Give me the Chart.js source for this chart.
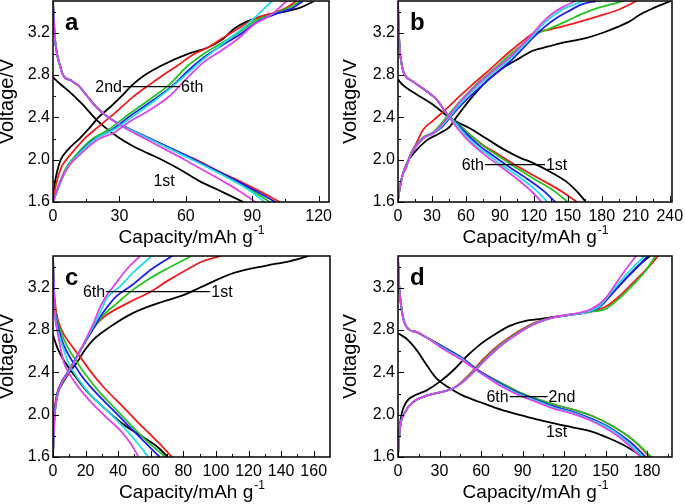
<!DOCTYPE html>
<html>
<head>
<meta charset="utf-8">
<script src="https://cdn.jsdelivr.net/npm/chart.js@4.4.0/dist/chart.umd.min.js"></script>
<style>
  html, body { margin: 0; padding: 0; background: #fff; }
  #wrap { position: relative; width: 685px; height: 504px; overflow: hidden; background: #fff; }
  canvas { position: absolute; }
</style>
</head>
<body>
<div id="wrap">
  <canvas id="panelA" width="342" height="252" style="left:0;top:0"></canvas>
  <canvas id="panelB" width="342" height="252" style="left:343px;top:0"></canvas>
  <canvas id="panelC" width="342" height="252" style="left:0;top:252px"></canvas>
  <canvas id="panelD" width="342" height="252" style="left:343px;top:252px"></canvas>
</div>
<script>
// cycle colours: 1st .. 6th
const cycleColors = ['#000000', '#ee1c1c', '#22c322', '#1c1cee', '#22dde6', '#dd44e6'];

// axis ticks
const yTicks = [1.6, 2.0, 2.4, 2.8, 3.2];
const yMinor = [1.8, 2.2, 2.6, 3.0, 3.4];
const xTicksA = [0, 30, 60, 90, 120];
const xMinorA = [15, 45, 75, 105];
const xTicksB = [0, 30, 60, 90, 120, 150, 180, 210, 240];
const xMinorB = [15, 45, 75, 105, 135, 165, 195, 225];
const xTicksC = [0, 20, 40, 60, 80, 100, 120, 140, 160];
const xMinorC = [10, 30, 50, 70, 90, 110, 130, 150];
const xTicksD = [0, 30, 60, 90, 120, 150, 180];
const xMinorD = [15, 45, 75, 105, 135, 165, 195];

// ---- panel a : [capacity, voltage] per cycle ----
const chargeA = [
  [[0,1.62],[0.5,1.72],[1,1.8],[2,1.9],[3.5,2.0],[7,2.1],[12,2.2],[16.5,2.3],[20.5,2.4],[26,2.5],[31,2.6],[35.5,2.7],[41.5,2.8],[50,2.9],[61,3.0],[70,3.06],[76,3.13],[82,3.24],[87,3.3],[95,3.36],[105,3.4],[112,3.44],[118,3.5]],
  [[0,1.62],[1.5,1.78],[3.8,1.93],[6,2.0],[10,2.1],[14.3,2.2],[21,2.32],[27.9,2.44],[35.4,2.58],[43,2.7],[50.5,2.81],[57,2.9],[63,2.99],[70,3.06],[76,3.14],[83,3.23],[91,3.33],[100,3.39],[105,3.43],[110,3.5]],
  [[0,1.6],[2.3,1.74],[5.3,1.9],[9.8,2.03],[17.3,2.19],[24.8,2.28],[32.4,2.4],[43,2.56],[52,2.7],[61,2.89],[68,3.0],[76,3.1],[84,3.2],[91,3.31],[100,3.38],[106,3.43],[112,3.5]],
  [[0,1.6],[2.5,1.74],[5.8,1.9],[10.5,2.03],[18.5,2.19],[26.5,2.28],[34,2.4],[45,2.56],[54,2.7],[62,2.86],[69,2.98],[77,3.09],[85,3.19],[92,3.3],[101,3.38],[108,3.43],[113,3.5]],
  [[0,1.6],[2.8,1.76],[6.2,1.92],[11.5,2.05],[19.5,2.2],[28,2.29],[35.5,2.4],[46,2.56],[55,2.71],[62,2.84],[68,2.95],[74,3.05],[80,3.15],[86,3.25],[91,3.34],[95,3.42],[99,3.5]],
  [[0,1.6],[3,1.78],[6.8,1.93],[12.8,2.06],[20.3,2.19],[27.9,2.26],[35.4,2.37],[43,2.46],[52,2.59],[61,2.78],[68,2.92],[76,3.03],[84,3.15],[91,3.28],[98.6,3.37],[102,3.43],[105.5,3.5]]
];
const dischargeA = [
  [[0,2.78],[3,2.72],[7,2.65],[13,2.53],[20,2.37],[29,2.22],[36,2.13],[43,2.06],[50,1.99],[58,1.9],[66,1.8],[74,1.72],[80,1.66],[86,1.6]],
  [[0,3.5],[0.3,3.35],[0.7,3.2],[1.2,3.08],[2,2.98],[3,2.9],[4.5,2.8],[8,2.75],[11.5,2.7],[15.5,2.6],[19.5,2.5],[25,2.4],[33.7,2.3],[43.8,2.2],[54,2.1],[64.5,2.0],[74,1.9],[84,1.8],[93.5,1.7],[102.5,1.6]],
  [[0,3.5],[0.3,3.35],[0.7,3.2],[1.2,3.08],[2,2.98],[3,2.9],[4.5,2.8],[8,2.75],[11.5,2.7],[15.5,2.6],[19.5,2.5],[25,2.4],[33.5,2.3],[43.5,2.2],[53.5,2.1],[63.5,2.0],[73,1.9],[82,1.8],[90.5,1.7],[98,1.6]],
  [[0,3.5],[0.3,3.35],[0.7,3.2],[1.2,3.08],[2,2.98],[3,2.9],[4.5,2.8],[8,2.75],[11.5,2.7],[15.5,2.6],[19.5,2.5],[25,2.4],[33.7,2.3],[43.8,2.2],[53.9,2.1],[64,2.0],[73.5,1.9],[83,1.8],[92,1.7],[100.5,1.6]],
  [[0,3.5],[0.3,3.35],[0.7,3.2],[1.2,3.08],[2,2.98],[3,2.9],[4.5,2.8],[8,2.75],[11.5,2.7],[15.5,2.6],[19.5,2.5],[25,2.4],[33.3,2.3],[43.2,2.2],[53,2.1],[63,2.0],[72.5,1.9],[81.5,1.8],[89.5,1.7],[95.5,1.6]],
  [[0,3.5],[0.3,3.35],[0.7,3.2],[1.2,3.08],[2,2.98],[3,2.9],[4.5,2.8],[8,2.75],[11.5,2.7],[15.5,2.6],[19.5,2.5],[25,2.4],[32.5,2.3],[41.5,2.2],[50.5,2.1],[59.5,2.0],[68,1.9],[76.5,1.8],[84.5,1.7],[91.5,1.6]]
];

// ---- panel b ----
const chargeB = [
  [[0,1.62],[2,1.76],[4.4,1.87],[8,1.97],[13,2.05],[25,2.18],[36.8,2.25],[45.6,2.31],[51.5,2.4],[63,2.56],[78,2.74],[93,2.87],[107.5,2.96],[119,3.03],[133,3.07],[143,3.1],[166,3.15],[181,3.2],[193,3.25],[205,3.31],[213.5,3.37],[225,3.43],[241,3.5]],
  [[0,1.62],[2,1.75],[4,1.85],[7.4,1.93],[11,2.05],[16,2.15],[22,2.28],[31,2.37],[42.7,2.48],[54.5,2.6],[69,2.74],[84,2.88],[98.6,3.02],[110,3.12],[119,3.19],[134,3.23],[149,3.27],[178,3.36],[193,3.41],[211,3.5]],
  [[0,1.62],[2,1.76],[4.5,1.87],[8,1.97],[13,2.09],[22,2.21],[31,2.26],[42.7,2.4],[54.5,2.55],[69,2.71],[84,2.85],[98.6,2.99],[110,3.09],[119,3.17],[134,3.24],[149,3.31],[163,3.38],[178,3.44],[200,3.5]],
  [[0,1.62],[2,1.76],[4.5,1.87],[8,1.96],[13,2.08],[22,2.2],[31,2.25],[38,2.3],[46,2.4],[57,2.53],[72,2.68],[87,2.82],[100,2.94],[111,3.06],[120,3.16],[130,3.26],[140,3.34],[150,3.4],[163,3.47],[175,3.5]],
  [[0,1.62],[2,1.76],[4.5,1.87],[8,1.96],[13,2.08],[22,2.2],[31,2.25],[37,2.3],[45,2.4],[56,2.54],[71,2.7],[86,2.84],[99,2.95],[110,3.07],[119,3.17],[128,3.28],[137,3.36],[147,3.43],[164,3.5]],
  [[0,1.62],[2,1.76],[4.5,1.87],[8,1.96],[13,2.08],[22,2.2],[31,2.25],[36,2.3],[44,2.4],[55,2.55],[70,2.71],[85,2.85],[98,2.96],[109,3.08],[118,3.18],[126,3.28],[135,3.37],[145,3.44],[157,3.5]]
];
const dischargeB = [
  [[0,2.76],[3,2.72],[7.4,2.68],[19,2.6],[31,2.52],[42.7,2.42],[51.5,2.36],[63,2.3],[78,2.2],[93,2.1],[107.5,2.02],[119,1.97],[137,1.87],[149,1.79],[158,1.7],[166,1.6]],
  [[0,3.5],[0.3,3.35],[0.8,3.2],[1.5,3.05],[2.5,2.95],[4,2.86],[6,2.8],[13,2.74],[25,2.65],[34,2.57],[40,2.48],[44,2.42],[54,2.33],[63,2.24],[75,2.14],[87,2.06],[105,1.94],[125,1.82],[143,1.71],[158,1.6]],
  [[0,3.5],[0.3,3.35],[0.8,3.2],[1.5,3.05],[2.5,2.95],[4,2.86],[6,2.8],[13,2.74],[25,2.65],[34,2.57],[40,2.48],[44,2.42],[54,2.33],[63,2.24],[74,2.14],[85,2.06],[102,1.94],[120,1.82],[137,1.71],[150,1.6]],
  [[0,3.5],[0.3,3.35],[0.8,3.2],[1.5,3.05],[2.5,2.95],[4,2.86],[6,2.8],[13,2.74],[25,2.65],[34,2.57],[40,2.48],[44,2.42],[53,2.33],[61,2.24],[71,2.14],[81,2.06],[97,1.94],[114,1.82],[128,1.71],[139,1.6]],
  [[0,3.5],[0.3,3.35],[0.8,3.2],[1.5,3.05],[2.5,2.95],[4,2.86],[6,2.8],[13,2.74],[25,2.65],[34,2.57],[40,2.48],[44,2.42],[52,2.33],[59,2.24],[68,2.14],[78,2.06],[93,1.94],[109,1.82],[123,1.7],[132,1.6]],
  [[0,3.5],[0.3,3.35],[0.8,3.2],[1.5,3.05],[2.5,2.95],[4,2.86],[6,2.8],[13,2.74],[25,2.65],[34,2.57],[40,2.48],[44,2.42],[50,2.33],[57,2.24],[66,2.14],[75,2.06],[90,1.94],[105,1.82],[119,1.69],[127,1.6]]
];

// ---- panel c ----
const chargeC = [
  [[0,1.62],[0.6,1.9],[1.3,2.05],[3,2.2],[6,2.3],[10,2.4],[15,2.5],[19,2.6],[24.8,2.71],[35,2.83],[49,2.96],[63.7,3.05],[80,3.13],[90,3.2],[111,3.34],[131,3.41],[145,3.45],[157,3.5]],
  [[0,1.62],[0.5,1.9],[1,2.05],[2.5,2.2],[5,2.3],[9,2.4],[15,2.56],[21,2.72],[26,2.84],[31,2.92],[39,3.0],[49,3.08],[59.6,3.16],[69.8,3.26],[82,3.37],[92,3.45],[103,3.5]],
  [[0,1.62],[0.6,1.9],[1.2,2.05],[2.7,2.2],[5.2,2.3],[9,2.4],[15,2.56],[21,2.72],[26,2.84],[31,2.94],[39,3.05],[49,3.18],[59.6,3.29],[70,3.38],[85,3.5]],
  [[0,1.62],[0.6,1.9],[1.2,2.05],[2.7,2.2],[5.2,2.3],[9,2.4],[15,2.56],[21,2.72],[26,2.85],[31,2.97],[39,3.12],[49,3.23],[60,3.37],[73,3.5]],
  [[0,1.62],[0.7,1.9],[1.4,2.05],[3,2.2],[5.5,2.3],[9.3,2.4],[15.2,2.56],[21,2.73],[25.5,2.86],[29,2.97],[33,3.1],[41,3.21],[49,3.34],[60.6,3.5]],
  [[0,1.62],[0.7,1.9],[1.4,2.05],[3,2.2],[5.5,2.3],[9.5,2.4],[15.5,2.57],[21,2.74],[25,2.87],[28.9,3.02],[33,3.13],[37,3.21],[45,3.37],[53.4,3.5]]
];
const dischargeC = [
  [[0,2.75],[3,2.62],[7.2,2.5],[13.3,2.37],[21.5,2.21],[31.7,2.06],[44,1.9],[54,1.8],[64.5,1.69],[70.5,1.6]],
  [[0,3.5],[0.3,3.3],[1,3.1],[2,2.97],[5,2.81],[11,2.66],[17.4,2.53],[23.5,2.4],[31.7,2.25],[42,2.09],[52,1.93],[64.5,1.74],[73,1.6]],
  [[0,3.5],[0.3,3.3],[1,3.05],[2,2.93],[4.5,2.8],[8.2,2.66],[13.3,2.53],[19.5,2.39],[27.6,2.23],[38,2.06],[48,1.9],[58.4,1.74],[69,1.6]],
  [[0,3.5],[0.3,3.3],[1,3.03],[2,2.9],[4,2.78],[6.5,2.66],[11.3,2.52],[17.4,2.37],[25.6,2.22],[35.8,2.06],[46,1.9],[56.3,1.74],[65.5,1.6]],
  [[0,3.5],[0.3,3.3],[1,3.0],[2,2.87],[4,2.74],[6.5,2.62],[9.2,2.5],[15.4,2.34],[23.5,2.18],[33.8,2.03],[44,1.87],[52,1.73],[58.5,1.6]],
  [[0,3.5],[0.3,3.3],[1,2.98],[2,2.84],[3.5,2.72],[5,2.6],[7.2,2.47],[13.3,2.31],[21.5,2.15],[31.7,1.99],[42,1.84],[48,1.72],[52.5,1.6]]
];

// ---- panel d ----
const chargeD = [
  [[0,1.68],[1,1.85],[2.5,2.0],[6,2.12],[13.5,2.19],[20.7,2.23],[30,2.31],[40,2.42],[49.5,2.55],[59,2.66],[69,2.75],[80.7,2.84],[93,2.89],[100,2.9],[110,2.92],[122,2.94],[136,2.97],[146,3.03],[155,3.15],[165,3.29],[174,3.41],[182,3.5]],
  [[0,1.62],[1.4,1.87],[5,2.02],[11,2.12],[20.7,2.18],[30,2.21],[40,2.25],[46,2.31],[53,2.4],[62,2.53],[74,2.67],[86,2.78],[97,2.86],[109,2.91],[122,2.94],[138,2.97],[150,3.02],[160,3.12],[170,3.25],[180,3.38],[188,3.5]],
  [[0,1.62],[1.4,1.87],[5,2.02],[11,2.12],[20.7,2.18],[30,2.21],[40,2.25],[46.5,2.31],[53.5,2.4],[63,2.53],[75,2.67],[87,2.78],[98,2.86],[109.5,2.91],[122,2.94],[138,2.97],[150,3.0],[160,3.1],[170,3.23],[179,3.36],[186,3.5]],
  [[0,1.62],[1.4,1.87],[5,2.02],[11,2.12],[20.7,2.18],[30.3,2.21],[39.9,2.25],[47,2.31],[54.3,2.4],[64,2.53],[76,2.67],[88,2.78],[99,2.86],[110,2.91],[122,2.94],[136,2.97],[146,3.02],[155,3.15],[165,3.29],[174,3.41],[180.5,3.5]],
  [[0,1.62],[1.4,1.87],[5,2.02],[11,2.12],[20.7,2.18],[30.3,2.21],[39.9,2.25],[47,2.31],[54.3,2.4],[64,2.53],[76,2.67],[88,2.78],[99,2.86],[110,2.91],[122,2.94],[136,2.97],[146,3.03],[155,3.17],[164,3.31],[172,3.42],[178,3.5]],
  [[0,1.62],[1.4,1.87],[5,2.02],[11,2.12],[20.7,2.18],[30.3,2.21],[39.9,2.25],[47,2.31],[54.3,2.4],[64,2.53],[76,2.67],[88,2.78],[99,2.86],[110,2.91],[120,2.94],[130,2.96],[140,3.0],[150,3.1],[158,3.25],[165,3.38],[172,3.5]]
];
const dischargeD = [
  [[0,2.77],[6,2.72],[13.5,2.61],[20.7,2.47],[28,2.34],[37.5,2.25],[47,2.18],[59,2.12],[76,2.04],[93,1.98],[112,1.92],[126,1.88],[140,1.84],[152,1.78],[165,1.7],[177,1.6]],
  [[0,3.5],[0.5,3.3],[1.4,3.13],[3.8,2.91],[7.5,2.81],[13.5,2.78],[20.7,2.73],[32.7,2.64],[44.7,2.55],[59,2.41],[73,2.31],[88,2.21],[98,2.16],[112,2.1],[126,2.05],[140,1.99],[154,1.9],[170,1.76],[182,1.6]],
  [[0,3.5],[0.5,3.3],[1.4,3.13],[3.8,2.91],[7.5,2.81],[13.5,2.78],[20.7,2.73],[32.7,2.64],[44.7,2.55],[59,2.41],[73,2.31],[88,2.21],[98,2.16],[112,2.1],[126,2.05],[140,1.99],[154,1.9],[170,1.76],[183,1.6]],
  [[0,3.5],[0.5,3.3],[1.4,3.13],[3.8,2.91],[7.5,2.81],[13.5,2.78],[20.7,2.73],[32.7,2.64],[44.7,2.55],[59,2.41],[73,2.3],[88,2.2],[98,2.15],[112,2.08],[126,2.03],[140,1.96],[154,1.87],[168,1.74],[179,1.6]],
  [[0,3.5],[0.5,3.3],[1.4,3.13],[3.8,2.91],[7.5,2.81],[13.5,2.78],[20.7,2.73],[32.7,2.63],[44.7,2.54],[59,2.4],[73,2.29],[88,2.19],[98,2.14],[112,2.07],[126,2.02],[140,1.95],[154,1.86],[167,1.73],[177,1.6]],
  [[0,3.5],[0.5,3.3],[1.4,3.13],[3.8,2.91],[7.5,2.81],[13.5,2.78],[20.7,2.73],[32.7,2.62],[44.7,2.53],[59,2.4],[73,2.28],[88,2.18],[98,2.13],[112,2.06],[126,2.01],[140,1.94],[154,1.84],[167,1.71],[175,1.6]]
];

// callouts: [from capacity, to capacity, voltage] and their texts
const calloutA = [31.6, 57.4, 2.69];
const calloutTextA = ['2nd', '6th'];
const calloutB = [76.8, 129.8, 1.953];
const calloutTextB = ['6th', '1st'];
const calloutC = [32.6, 96.5, 3.163];
const calloutTextC = ['6th', '1st'];
const calloutD = [80.7, 108.1, 2.17];
const calloutTextD = ['6th', '2nd'];
const firstLabelA = [50.2, 1.755, '1st'];
const firstLabelD = [114.6, 1.792, '1st'];

const FONT = "'Liberation Sans', Arial, Helvetica, sans-serif";
Chart.defaults.font.family = FONT;
Chart.defaults.color = '#000';

// frame, inward ticks, axis titles and panel texts
const panelDecor = {
  id: 'panelDecor',
  afterDraw(chart, args, o) {
    const { ctx, chartArea: ca } = chart;
    const x = chart.scales.x, y = chart.scales.y;
    ctx.save();
    ctx.strokeStyle = '#000';
    ctx.lineWidth = 1.5;
    ctx.strokeRect(ca.left, ca.top, ca.right - ca.left, ca.bottom - ca.top);

    ctx.lineWidth = 1;
    ctx.beginPath();
    const tickX = (v, len) => {
      const px = Math.round(x.getPixelForValue(v)) + 0.5;
      ctx.moveTo(px, ca.bottom); ctx.lineTo(px, ca.bottom - len);
    };
    const tickY = (v, len) => {
      const py = Math.round(y.getPixelForValue(v)) + 0.5;
      ctx.moveTo(ca.left, py); ctx.lineTo(ca.left + len, py);
    };
    o.xMajor.forEach(v => tickX(v, 6));
    o.xMinor.forEach(v => tickX(v, 3));
    yTicks.forEach(v => tickY(v, 6));
    yMinor.forEach(v => tickY(v, 3));
    ctx.stroke();

    ctx.fillStyle = '#000';
    // x title with superscript
    const main = 'Capacity/mAh g', sup = '-1';
    ctx.font = '19px ' + FONT;
    const w1 = ctx.measureText(main).width;
    ctx.font = '12px ' + FONT;
    const w2 = ctx.measureText(sup).width;
    const cx = (ca.left + ca.right) / 2;
    const bx = cx - (w1 + w2) / 2;
    const by = ca.bottom + 41;
    ctx.textAlign = 'left';
    ctx.textBaseline = 'alphabetic';
    ctx.font = '19px ' + FONT;
    ctx.fillText(main, bx, by);
    ctx.font = '12px ' + FONT;
    ctx.fillText(sup, bx + w1 + 1, by - 9);

    // y title
    ctx.save();
    ctx.translate(7, (ca.top + ca.bottom) / 2);
    ctx.rotate(-Math.PI / 2);
    ctx.font = '20px ' + FONT;
    ctx.textAlign = 'center';
    ctx.textBaseline = 'middle';
    ctx.fillText('Voltage/V', 0, 0);
    ctx.restore();

    // panel letter
    ctx.font = 'bold 24px ' + FONT;
    ctx.textAlign = 'left';
    ctx.textBaseline = 'alphabetic';
    ctx.fillText(o.letter, ca.left + 12, ca.top + 29);

    // callout texts
    ctx.font = '16px ' + FONT;
    const c = o.callout;
    const ly = y.getPixelForValue(c[2]) + 5.5;
    ctx.textAlign = 'right';
    ctx.fillText(o.calloutText[0], x.getPixelForValue(c[0]) - 1, ly);
    ctx.textAlign = 'left';
    ctx.fillText(o.calloutText[1], x.getPixelForValue(c[1]) + 1, ly);
    if (o.free) {
      ctx.textAlign = 'center';
      ctx.fillText(o.free[2], x.getPixelForValue(o.free[0]), y.getPixelForValue(o.free[1]));
    }
    ctx.restore();
  }
};

function makePanel(id, p) {
  const datasets = [];
  [p.charge, p.discharge].forEach(group => {
    group.forEach((curve, i) => {
      datasets.push({
        data: curve.map(pt => ({ x: pt[0], y: pt[1] })),
        borderColor: cycleColors[i],
        borderWidth: 1.8,
        showLine: true,
        pointRadius: 0,
        cubicInterpolationMode: 'monotone',
        order: 10 - i
      });
    });
  });
  datasets.push({
    data: [{ x: p.callout[0], y: p.callout[2] }, { x: p.callout[1], y: p.callout[2] }],
    borderColor: '#000',
    borderWidth: 1.2,
    showLine: true,
    pointRadius: 0,
    order: 0
  });

  new Chart(document.getElementById(id), {
    type: 'scatter',
    data: { datasets },
    options: {
      responsive: false,
      animation: false,
      events: [],
      layout: { padding: { left: 0, top: p.area.top, right: p.area.right, bottom: 0 } },
      plugins: {
        legend: { display: false },
        tooltip: { enabled: false },
        panelDecor: {
          xMajor: p.xTicks, xMinor: p.xMinor, letter: p.letter,
          callout: p.callout, calloutText: p.calloutText, free: p.free
        }
      },
      scales: {
        x: {
          type: 'linear', min: 0, max: p.xMax,
          grid: { display: false, drawTicks: false },
          border: { display: false },
          ticks: { font: { size: 16 }, padding: 5, autoSkip: false, maxRotation: 0, callback: v => String(v) },
          afterBuildTicks: s => { s.ticks = p.xTicks.map(v => ({ value: v })); },
          afterFit: s => {
            s.height = p.area.xh;
            s.paddingLeft = 0; s.paddingRight = 0;
          }
        },
        y: {
          type: 'linear', min: 1.6, max: 3.5,
          grid: { display: false, drawTicks: false },
          border: { display: false },
          ticks: { font: { size: 16 }, padding: 3, autoSkip: false, callback: v => v.toFixed(1) },
          afterBuildTicks: s => { s.ticks = yTicks.map(v => ({ value: v })); },
          afterFit: s => {
            s.width = p.area.yw;
            s.paddingTop = 0; s.paddingBottom = 0;
          }
        }
      }
    },
    plugins: [panelDecor]
  });
}

makePanel('panelA', { charge: chargeA, discharge: dischargeA, xTicks: xTicksA, xMinor: xMinorA, xMax: 124.7,
  letter: 'a', callout: calloutA, calloutText: calloutTextA, free: firstLabelA,
  area: { yw: 53, top: 1, right: 13, xh: 50 } });
makePanel('panelB', { charge: chargeB, discharge: dischargeB, xTicks: xTicksB, xMinor: xMinorB, xMax: 242,
  letter: 'b', callout: calloutB, calloutText: calloutTextB, free: null,
  area: { yw: 55, top: 1, right: 13, xh: 50 } });
makePanel('panelC', { charge: chargeC, discharge: dischargeC, xTicks: xTicksC, xMinor: xMinorC, xMax: 170,
  letter: 'c', callout: calloutC, calloutText: calloutTextC, free: null,
  area: { yw: 53, top: 4, right: 12, xh: 47 } });
makePanel('panelD', { charge: chargeD, discharge: dischargeD, xTicks: xTicksD, xMinor: xMinorD, xMax: 198,
  letter: 'd', callout: calloutD, calloutText: calloutTextD, free: firstLabelD,
  area: { yw: 55, top: 4, right: 13, xh: 47 } });
</script>
</body>
</html>
